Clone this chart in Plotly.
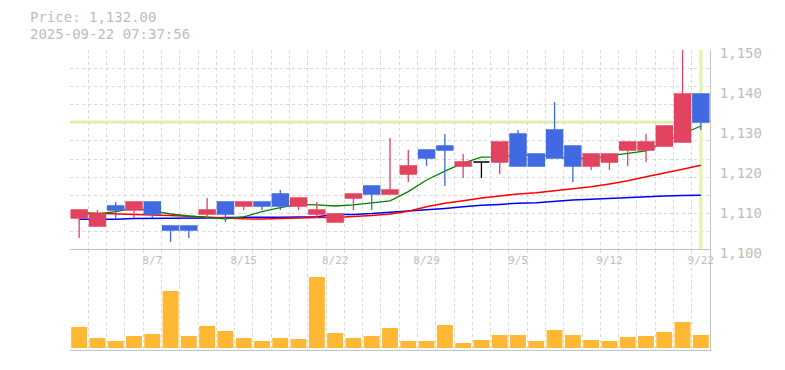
import plotly.graph_objects as go

# ---------------- data ----------------
dates = ["8/1", "8/4", "8/5", "8/6", "8/7", "8/8", "8/12", "8/13", "8/14", "8/15",
         "8/18", "8/19", "8/20", "8/21", "8/22", "8/25", "8/26", "8/27", "8/28", "8/29",
         "9/1", "9/2", "9/3", "9/4", "9/5", "9/8", "9/9", "9/10", "9/11", "9/12",
         "9/16", "9/17", "9/18", "9/19", "9/22"]

open_ = [1108, 1106, 1111, 1110, 1112, 1106, 1106, 1109, 1112, 1111,
         1112, 1114, 1111, 1109, 1107, 1113, 1116, 1114, 1119, 1125,
         1126, 1121, 1122, 1122, 1129, 1124, 1130, 1126, 1121, 1122,
         1125, 1125, 1126, 1127, 1139]
high = [1110, 1110, 1112, 1112, 1112, 1106, 1106, 1113, 1112, 1112,
        1112, 1115, 1113, 1112, 1109, 1114, 1116, 1128, 1125, 1125,
        1129, 1124, 1122, 1127, 1130, 1124, 1137, 1126, 1124, 1124,
        1127, 1129, 1131, 1151, 1139]
low = [1103, 1106, 1108, 1108, 1108, 1102, 1103, 1108, 1107, 1110,
       1110, 1110, 1110, 1108, 1107, 1110, 1110, 1114, 1117, 1121,
       1116, 1118, 1118, 1119, 1121, 1121, 1123, 1117, 1120, 1120,
       1121, 1122, 1126, 1127, 1130]
close = [1110, 1109, 1110, 1112, 1109, 1105, 1105, 1110, 1109, 1112,
         1111, 1111, 1113, 1110, 1109, 1114, 1114, 1115, 1121, 1123,
         1125, 1122, 1122, 1127, 1121, 1121, 1123, 1121, 1124, 1124,
         1127, 1127, 1131, 1139, 1132]

ma_short = [1109.2, 1109.0, 1109.6, 1110.4, 1109.8, 1109.0, 1108.5, 1108.2, 1107.8, 1108.3,
            1109.6, 1110.6, 1111.4, 1111.3, 1111.0, 1111.3, 1111.8, 1112.3, 1114.6, 1117.5,
            1119.7, 1121.7, 1123.2, 1123.3, 1123.7, 1123.7, 1123.3, 1122.9, 1122.9, 1123.5,
            1124.2, 1124.8, 1127.0, 1129.0, 1131.0]
ma_mid = [1109.3, 1109.2, 1109.0, 1108.9, 1108.75, 1108.6, 1108.4, 1108.2, 1107.9, 1107.8,
          1107.75, 1107.9, 1107.9, 1108.1, 1108.1, 1108.3, 1108.6, 1109.0, 1109.7, 1110.8,
          1111.7, 1112.3, 1113.0, 1113.5, 1114.0, 1114.3, 1114.8, 1115.3, 1115.8, 1116.5,
          1117.3, 1118.3, 1119.2, 1120.2, 1121.2]
ma_long = [1107.7, 1107.7, 1107.7, 1107.9, 1107.9, 1107.9, 1107.9, 1108.0, 1108.1, 1108.2,
           1108.2, 1108.2, 1108.3, 1108.3, 1108.9, 1108.9, 1109.1, 1109.4, 1109.7, 1110.0,
           1110.4, 1110.8, 1111.2, 1111.4, 1111.7, 1111.8, 1112.2, 1112.5, 1112.7, 1112.9,
           1113.2, 1113.3, 1113.5, 1113.6, 1113.7]

volume = [2100, 1000, 700, 1200, 1400, 5700, 1200, 2200, 1700, 1000,
          700, 1000, 900, 7100, 1500, 1000, 1200, 2000, 700, 700,
          2300, 500, 800, 1300, 1300, 700, 1800, 1300, 800, 700,
          1100, 1200, 1600, 2600, 1300]

tick_labels = ["8/7", "8/15", "8/22", "8/29", "9/5", "9/12", "9/22"]
y_ticks = [1100, 1110, 1120, 1130, 1140, 1150]
timestamp = "2025-09-22 07:37:56"

# ---------------- styling ----------------
RED = "#E2435F"
BLUE = "#4169E1"
VOL = "#FFB833"
GRID = "#D8D8D8"
AXIS = "#C3C3C3"
TXT = "#BDBDBD"
YEL = "#E3F4A6"
FONT = "DejaVu Sans Mono"

n = len(dates)
xs = list(range(n))
last_price = close[-1]

ud = [i for i in xs if open_[i] != close[i]]
dj = [i for i in xs if open_[i] == close[i]]

fig = go.Figure()

# moving averages (on main price axis, drawn beneath candles)
for vals, col, w in [(ma_long, "#0000FF", 1.5), (ma_mid, "#FF0000", 1.5), (ma_short, "#008000", 1.3)]:
    fig.add_trace(go.Scatter(x=xs, y=vals, mode="lines", line=dict(color=col, width=w),
                             xaxis="x", yaxis="y", hoverinfo="skip", showlegend=False))

# candles (on overlay axis so they sit above the MA lines)
fig.add_trace(go.Candlestick(
    x=[xs[i] for i in ud], open=[open_[i] for i in ud], high=[high[i] for i in ud],
    low=[low[i] for i in ud], close=[close[i] for i in ud],
    increasing=dict(line=dict(color=RED, width=1.3), fillcolor=RED),
    decreasing=dict(line=dict(color=BLUE, width=1.3), fillcolor=BLUE),
    whiskerwidth=0, xaxis="x", yaxis="y2", showlegend=False))
fig.add_trace(go.Candlestick(
    x=[xs[i] for i in dj], open=[open_[i] for i in dj], high=[high[i] for i in dj],
    low=[low[i] for i in dj], close=[close[i] for i in dj],
    increasing=dict(line=dict(color="#000000", width=1.3), fillcolor="#000000"),
    decreasing=dict(line=dict(color="#000000", width=1.3), fillcolor="#000000"),
    whiskerwidth=0, xaxis="x", yaxis="y2", showlegend=False))

# volume
fig.add_trace(go.Bar(x=xs, y=volume, marker=dict(color=VOL, line=dict(width=0)),
                     width=0.87, xaxis="x2", yaxis="y3", showlegend=False, hoverinfo="skip"))

minor_x = dict(tickmode="linear", tick0=-0.5, dtick=1, showgrid=True,
               gridcolor=GRID, griddash="3px,3px", gridwidth=1, ticks="")

fig.update_layout(
    width=785, height=370,
    margin=dict(l=70, r=75, t=50, b=20, autoexpand=False),
    paper_bgcolor="white", plot_bgcolor="white",
    showlegend=False, boxgap=0.0, boxgroupgap=0.12,
    xaxis=dict(domain=[0, 1], anchor="y", range=[-0.5, n - 0.5], automargin=False,
               tickmode="array", tickvals=[dates.index(t) for t in tick_labels],
               ticktext=tick_labels, ticks="", showgrid=False, zeroline=False,
               showline=False, ticklabelstandoff=2,
               tickfont=dict(family=FONT, size=11, color=TXT),
               minor=minor_x, rangeslider=dict(visible=False), fixedrange=True),
    yaxis=dict(domain=[1 / 3, 1], anchor="x", range=[1100, 1150], automargin=False,
               tickmode="linear", tick0=1100, dtick=50 / 11, showticklabels=False,
               ticks="", showgrid=True, gridcolor=GRID, griddash="3px,3px", gridwidth=1,
               zeroline=False, showline=False),
    yaxis2=dict(overlaying="y", anchor="x", side="right", range=[1100, 1150], automargin=False,
                tickmode="array", tickvals=y_ticks, ticktext=[f"{v:,}" for v in y_ticks],
                ticks="", showgrid=False, zeroline=False, showline=True,
                linecolor=AXIS, linewidth=1, ticklabelstandoff=6, ticklabelshift=3,
                tickfont=dict(family=FONT, size=14, color=TXT)),
    xaxis2=dict(domain=[0, 1], anchor="y3", range=[-0.5, n - 0.5], automargin=False,
                showticklabels=False, ticks="", showgrid=False, zeroline=False,
                showline=True, mirror=True, linecolor=AXIS, linewidth=1.2,
                minor=minor_x),
    yaxis3=dict(domain=[0, 1 / 3], anchor="x2", range=[-200, 9800], side="right",
                automargin=False,
                showticklabels=False, ticks="", showgrid=False, zeroline=False,
                showline=True, linecolor=AXIS, linewidth=1),
    shapes=[
        dict(type="line", xref="paper", x0=0, x1=1, yref="y", y0=last_price, y1=last_price,
             line=dict(color=YEL, width=3), layer="between"),
        dict(type="line", xref="x", x0=xs[-1], x1=xs[-1], yref="y", y0=1100, y1=1150,
             line=dict(color=YEL, width=3), layer="between"),
    ],
    annotations=[
        dict(text=f"Price: {last_price:,.2f}", xref="paper", yref="paper",
             x=-41 / 640, y=1 + 33.5 / 300, xanchor="left", yanchor="middle", showarrow=False,
             font=dict(family=FONT, size=14, color=TXT), borderpad=0),
        dict(text=timestamp, xref="paper", yref="paper",
             x=-41 / 640, y=1 + 16.5 / 300, xanchor="left", yanchor="middle", showarrow=False,
             font=dict(family=FONT, size=14, color=TXT), borderpad=0),
    ],
)

fig.write_html("out.html")
